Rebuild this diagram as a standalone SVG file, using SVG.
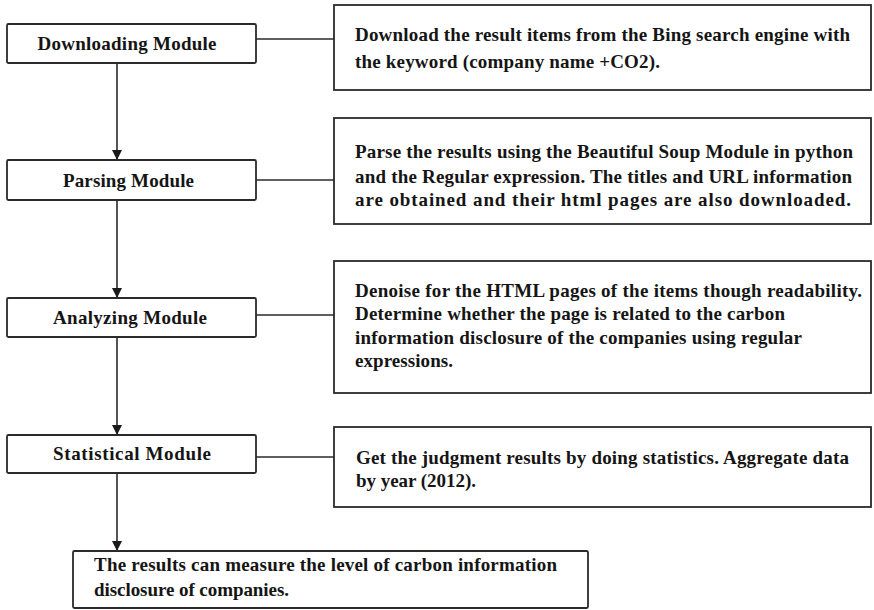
<svg xmlns="http://www.w3.org/2000/svg" width="874" height="610" viewBox="0 0 874 610">
  <style>
    .box { fill: #ffffff; stroke: #2a2a2a; stroke-width: 1.8; }
    .link { fill: none; stroke: #2a2a2a; stroke-width: 1.6; }
    .mod { font-family: "Liberation Serif", "Times New Roman", serif; font-weight: bold; font-size: 19px; fill: #151515; text-anchor: middle; }
    .desc { font-family: "Liberation Serif", "Times New Roman", serif; font-weight: bold; font-size: 19px; fill: #151515; }
  </style>
  <defs>
    <marker id="arrow" viewBox="0 0 10 10" refX="10" refY="5" markerWidth="10" markerHeight="10" markerUnits="userSpaceOnUse" orient="auto">
      <path d="M0,0 L10,5 L0,10 Z" fill="#1a1a1a"/>
    </marker>
  </defs>
  <rect width="874" height="610" fill="#ffffff"/>

  <!-- connectors -->
  <g id="connectors">
    <line class="link" x1="117" y1="63" x2="117" y2="160" marker-end="url(#arrow)"/>
    <line class="link" x1="117" y1="200" x2="117" y2="298" marker-end="url(#arrow)"/>
    <line class="link" x1="117" y1="337" x2="117" y2="435" marker-end="url(#arrow)"/>
    <line class="link" x1="117" y1="473" x2="117" y2="551" marker-end="url(#arrow)"/>
    <line class="link" x1="256" y1="39" x2="334" y2="39"/>
    <line class="link" x1="256" y1="180" x2="334" y2="180"/>
    <line class="link" x1="256" y1="315" x2="334" y2="315"/>
    <line class="link" x1="256" y1="457" x2="334" y2="457"/>
  </g>

  <!-- module column -->
  <g id="downloading">
    <rect class="box" x="7" y="24" width="249" height="39" rx="1.5"/>
    <text class="mod" x="127" y="50" textLength="179">Downloading Module</text>
  </g>
  <g id="parsing">
    <rect class="box" x="7" y="160" width="249" height="40" rx="1.5"/>
    <text class="mod" x="128.5" y="187" textLength="131">Parsing Module</text>
  </g>
  <g id="analyzing">
    <rect class="box" x="7" y="298" width="249" height="39" rx="1.5"/>
    <text class="mod" x="130" y="324" textLength="154">Analyzing Module</text>
  </g>
  <g id="statistical">
    <rect class="box" x="7" y="435" width="249" height="38" rx="1.5"/>
    <text class="mod" x="132" y="460" textLength="158">Statistical Module</text>
  </g>

  <!-- description column -->
  <g id="downloading-desc">
    <rect class="box" x="334" y="5" width="537" height="85"/>
    <text class="desc" x="355" y="41" textLength="495">Download the result items from the Bing search engine with</text>
    <text class="desc" x="355" y="68" textLength="305">the keyword (company name +CO2).</text>
  </g>
  <g id="parsing-desc">
    <rect class="box" x="334" y="118" width="537" height="106"/>
    <text class="desc" x="355" y="158" textLength="498">Parse the results using the Beautiful Soup Module in python</text>
    <text class="desc" x="355" y="183" textLength="497">and the Regular expression. The titles and URL information</text>
    <text class="desc" x="355" y="206" textLength="496">are obtained and their html pages are also downloaded.</text>
  </g>
  <g id="analyzing-desc">
    <rect class="box" x="334" y="261" width="537" height="132"/>
    <text class="desc" x="355" y="297" textLength="507">Denoise for the HTML pages of the items though readability.</text>
    <text class="desc" x="355" y="320" textLength="430">Determine whether the page is related to the carbon</text>
    <text class="desc" x="355" y="344" textLength="447">information disclosure of the companies using regular</text>
    <text class="desc" x="355" y="367" textLength="98">expressions.</text>
  </g>
  <g id="statistical-desc">
    <rect class="box" x="334" y="427" width="537" height="80"/>
    <text class="desc" x="356" y="464" textLength="493">Get the judgment results by doing statistics. Aggregate data</text>
    <text class="desc" x="356" y="487" textLength="120">by year (2012).</text>
  </g>

  <!-- outcome -->
  <g id="outcome">
    <rect class="box" x="73" y="551" width="515" height="57" rx="1.5"/>
    <text class="desc" x="94" y="571" textLength="463">The results can measure the level of carbon information</text>
    <text class="desc" x="94" y="596" textLength="195">disclosure of companies.</text>
  </g>
</svg>
